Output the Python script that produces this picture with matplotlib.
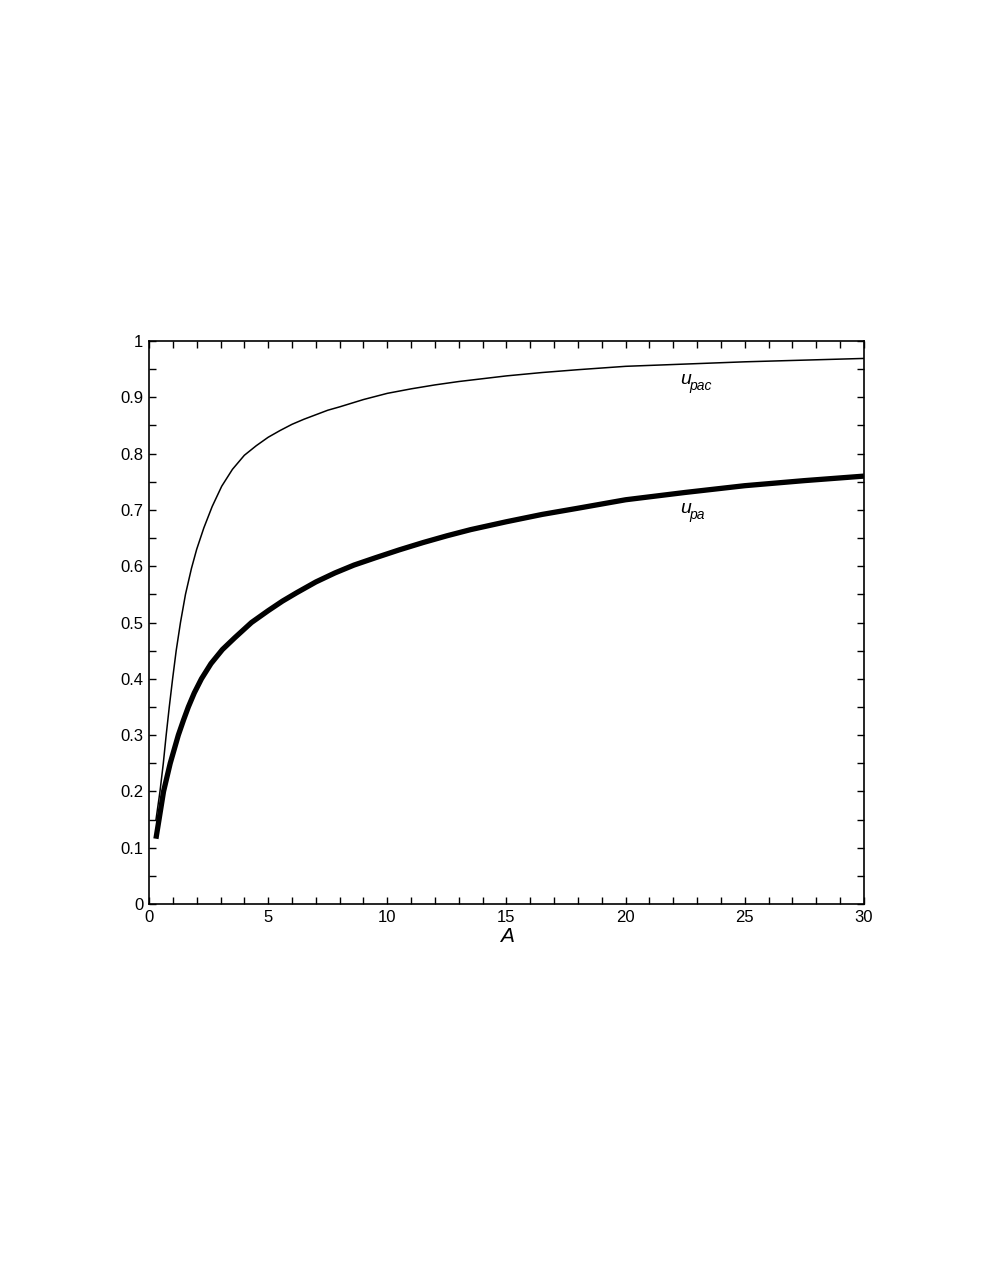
import matplotlib
matplotlib.use("Agg")
import matplotlib.pyplot as plt

plt.rcParams["font.family"] = ["Liberation Sans", "DejaVu Sans"]

# values
a_pac = [0.29, 0.46, 0.60, 0.72, 0.85, 0.99, 1.14, 1.32, 1.53, 1.78, 2.0,
         2.3, 2.65, 3.05, 3.5, 4.0, 4.5, 5.0, 5.5, 6.0, 6.5, 7.0, 7.5, 8.0,
         9.0, 10.0, 11.0, 12.0, 13.0, 14.0, 15.0, 16.5, 18.0, 20.0, 22.5,
         25.0, 27.5, 30.0]
u_pac = [0.149, 0.20, 0.25, 0.30, 0.35, 0.40, 0.45, 0.50, 0.55, 0.596, 0.630,
         0.668, 0.706, 0.742, 0.772, 0.797, 0.814, 0.829, 0.841, 0.852,
         0.861, 0.869, 0.877, 0.883, 0.896, 0.907, 0.915, 0.922, 0.928,
         0.933, 0.938, 0.944, 0.949, 0.955, 0.959, 0.963, 0.966, 0.969]

a_pa = [0.29, 0.42, 0.61, 0.89, 1.23, 1.45, 1.65, 1.9, 2.2, 2.6, 3.08, 3.6,
        4.3, 5.0, 5.6, 6.2, 7.0, 7.8, 8.6, 9.5, 10.5, 11.5, 12.5, 13.5, 15.0,
        16.5, 18.0, 20.0, 22.5, 25.0, 27.5, 30.0]
u_pa = [0.116, 0.15, 0.20, 0.25, 0.30, 0.327, 0.35, 0.375, 0.40, 0.427, 0.452,
        0.473, 0.50, 0.521, 0.538, 0.553, 0.572, 0.588, 0.602, 0.615, 0.629,
        0.642, 0.654, 0.665, 0.679, 0.692, 0.703, 0.718, 0.731, 0.743, 0.752,
        0.760]

x_ticks = [0, 5, 10, 15, 20, 25, 30]
x_labels = ["0", "5", "10", "15", "20", "25", "30"]
y_ticks = [0, 0.1, 0.2, 0.3, 0.4, 0.5, 0.6, 0.7, 0.8, 0.9, 1.0]
y_labels = ["0", "0.1", "0.2", "0.3", "0.4", "0.5", "0.6", "0.7", "0.8",
            "0.9", "1"]

fig = plt.figure(figsize=(9.81, 12.69), dpi=100)
ax = fig.add_axes([0.1519, 0.2876, 0.7288, 0.4437])

ax.plot(a_pa, u_pa, color="black", lw=3.8, solid_capstyle="butt",
        solid_joinstyle="round")
ax.plot(a_pac, u_pac, color="black", lw=1.1, solid_joinstyle="round")


def label(x, y, sub):
    ax.text(x, y, "u", fontsize=14, style="italic", va="baseline")
    ax.annotate(sub, (x, y), xytext=(7.0, -4.5), textcoords="offset points",
                fontsize=10, style="italic", va="baseline")


label(22.28, 0.924, "pac")
label(22.28, 0.6945, "pa")

ax.set_xlim(0, 30)
ax.set_ylim(0, 1)
ax.set_xticks(x_ticks)
ax.set_xticklabels(x_labels)
ax.set_yticks(y_ticks)
ax.set_yticklabels(y_labels)
ax.set_xticks(range(0, 31), minor=True)
ax.set_yticks([i * 0.05 for i in range(21)], minor=True)
ax.tick_params(which="both", direction="in", top=True, right=True,
               length=5, width=1.0, labelsize=12, pad=4)
ax.set_xlabel("A", fontsize=15, style="italic", labelpad=2)
for s in ax.spines.values():
    s.set_linewidth(1.2)

fig.savefig("out.png", dpi=100)
